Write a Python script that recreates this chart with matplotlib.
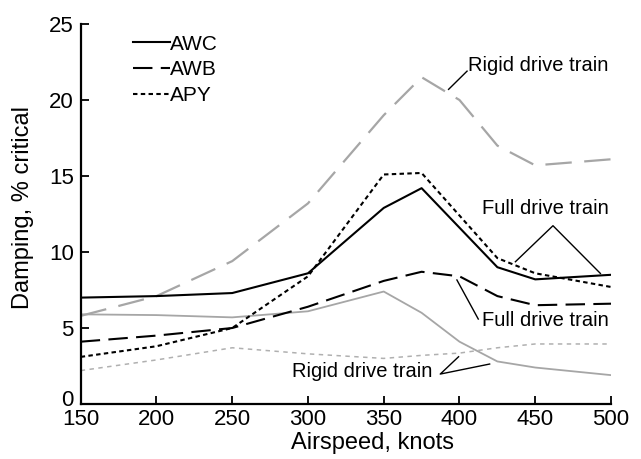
import matplotlib
matplotlib.use("Agg")
import matplotlib.pyplot as plt
from matplotlib.transforms import ScaledTranslation

# ---- data ----
airspeed = [150, 200, 250, 300, 350, 375, 400, 425, 450, 500]

awc_full = [7.0, 7.1, 7.3, 8.6, 12.9, 14.2, 11.6, 9.0, 8.2, 8.5]
awb_full = [4.1, 4.5, 5.0, 6.4, 8.1, 8.7, 8.4, 7.1, 6.5, 6.6]
apy_full = [3.1, 3.8, 5.0, 8.4, 15.1, 15.2, 12.4, 9.6, 8.6, 7.7]

awc_rigid = [5.9, 5.85, 5.7, 6.1, 7.4, 6.0, 4.1, 2.8, 2.4, 1.9]
awb_rigid = [5.8, 7.1, 9.4, 13.2, 19.0, 21.5, 20.0, 17.0, 15.7, 16.1]
apy_rigid = [2.2, 2.9, 3.7, 3.3, 3.0, 3.2, 3.35, 3.7, 3.95, 3.95]

x_ticks = [150, 200, 250, 300, 350, 400, 450, 500]
y_ticks = [0, 5, 10, 15, 20, 25]

plt.rcParams["font.family"] = ["Liberation Sans", "DejaVu Sans"]
plt.rcParams["lines.scale_dashes"] = False

BLACK = "black"
GRAY = "#a6a6a6"
LIGHT = "#b0b0b0"
NOTE_SIZE = 14.5

fig = plt.figure(figsize=(6.41, 4.59), dpi=100)
ax = fig.add_axes([0.1259, 0.1198, 0.8273, 0.8279])

# rigid drive train (gray)
ax.plot(airspeed, awb_rigid, color=GRAY, lw=1.6, dashes=(19, 9))
ax.plot(airspeed, awc_rigid, color=GRAY, lw=1.3)
ax.plot(airspeed, apy_rigid, color=LIGHT, lw=1.1, dashes=(3.2, 3.2))

# full drive train (black)
ax.plot(airspeed, awc_full, color=BLACK, lw=1.5, label="AWC")
ax.plot(airspeed, awb_full, color=BLACK, lw=1.5, dashes=(14, 6), label="AWB")
ax.plot(airspeed, apy_full, color=BLACK, lw=1.5, dashes=(3.2, 2.4), label="APY")

# annotations
ax.plot([392.8, 405.0], [20.7, 21.9], color=BLACK, lw=1)
ax.text(405.8, 22.3, "Rigid drive train", fontsize=NOTE_SIZE, va="center", ha="left")

ax.plot([436.9, 461.7, 493.0], [9.36, 11.73, 8.59], color=BLACK, lw=1)
ax.text(414.9, 12.83, "Full drive train", fontsize=NOTE_SIZE, va="center", ha="left")

ax.plot([398.3, 412.4], [8.16, 5.59], color=BLACK, lw=1)
ax.text(414.9, 5.48, "Full drive train", fontsize=NOTE_SIZE, va="center", ha="left")

ax.plot([399.4, 387.3, 419.9], [3.11, 1.97, 2.63], color=BLACK, lw=1)
ax.text(381.8, 2.13, "Rigid drive train", fontsize=NOTE_SIZE, va="center", ha="right")

ax.set_xlim(150, 500)
ax.set_ylim(0, 25)
ax.set_xticks(x_ticks)
ax.set_yticks(y_ticks)
ax.tick_params(direction="in", length=6, width=1.3, labelsize=16)
ax.tick_params(axis="x", pad=3.5)
ax.tick_params(axis="y", pad=5)
for side in ("top", "right"):
    ax.spines[side].set_visible(False)
for side in ("left", "bottom"):
    ax.spines[side].set_linewidth(1.6)

# lift the "0" a little so it clears the "150" below it
zero_label = ax.get_yticklabels()[0]
zero_label.set_transform(zero_label.get_transform()
                         + ScaledTranslation(0, 4 / 72, fig.dpi_scale_trans))

ax.set_xlabel("Airspeed, knots", fontsize=17, va="center")
ax.xaxis.set_label_coords(0.55, -0.103)
ax.set_ylabel("Damping, % critical", fontsize=17, va="center")
ax.yaxis.set_label_coords(-0.109, 0.516)

ax.legend(loc="upper left", bbox_to_anchor=(0.0986, 0.972), frameon=False,
          handlelength=1.78, handletextpad=0.0, labelspacing=0.32,
          fontsize=15, borderaxespad=0, borderpad=0)

fig.savefig("out.png", dpi=100)
